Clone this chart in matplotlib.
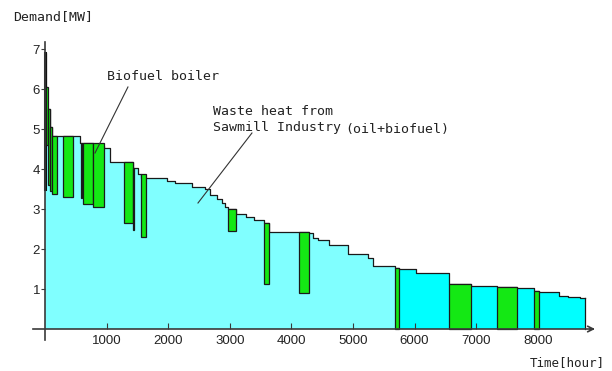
import numpy as np
import matplotlib.pyplot as plt

# load duration curve: step edges (hours) and demand level (MW) on each step
hour_edges = [0, 15, 40, 75, 110, 568, 780, 960, 1055, 1430, 1510, 1560,
              1981, 2110, 2386, 2600, 2679, 2792, 2873, 2922, 2971, 3101,
              3263, 3393, 3555, 3636, 4286, 4351, 4432, 4610, 4919, 5244,
              5325, 5682, 5747, 6023, 6201, 6558, 6916, 7338, 7662, 7938,
              8019, 8344, 8490, 8685, 8760]
demand = [6.9, 6.05, 5.5, 5.05, 4.83, 4.65, 4.57, 4.52, 4.18, 4.02, 3.88,
          3.78, 3.71, 3.66, 3.56, 3.49, 3.35, 3.25, 3.16, 3.06, 3.0, 2.88,
          2.79, 2.72, 2.66, 2.43, 2.41, 2.28, 2.22, 2.1, 1.87, 1.78, 1.58,
          1.52, 1.5, 1.41, 1.39, 1.12, 1.08, 1.04, 1.02, 0.96, 0.93, 0.83,
          0.81, 0.77]
split_hour = 5747  # waste heat only (light) / later period (dark)

# biofuel boiler operation blocks: start, end, lower level
bio_start = [15, 45, 80, 115, 292, 590, 617, 779, 1282, 1435, 1558, 2971,
             3555, 4123, 5682, 6558, 7338, 7938]
bio_end = [45, 80, 115, 195, 455, 608, 779, 958, 1429, 1452, 1640, 3101,
           3636, 4286, 5747, 6916, 7662, 8019]
bio_bottom = [4.6, 3.6, 3.45, 3.37, 3.31, 3.27, 3.12, 3.04, 2.66, 2.48, 2.31,
              2.46, 1.12, 0.89, 0.0, 0.0, 0.0, 0.0]

x_ticks = [1000, 2000, 3000, 4000, 5000, 6000, 7000, 8000]
y_ticks = [1, 2, 3, 4, 5, 6, 7]

light = '#80ffff'
dark = '#00ffff'
green = '#14e814'
edge = '#1a1a1a'
axcol = '#3a3a3a'
mono = 'DejaVu Sans Mono'

edges = np.array(hour_edges, dtype=float)
levels = np.array(demand + [demand[-1]])

fig = plt.figure(figsize=(6.12, 3.71), dpi=100)
ax = fig.add_axes([0, 0, 1, 1])
ax.set_xlim(-730, 9205)
ax.set_ylim(-1.05, 8.225)

k = hour_edges.index(split_hour)
ax.fill_between(edges[:k + 1], levels[:k + 1], step='post', color=light,
                lw=0, zorder=1)
ax.fill_between(edges[k:], levels[k:], step='post', color=dark, lw=0, zorder=1)
ax.step(edges, levels, where='post', color=edge, lw=0.9, zorder=2)
ax.plot([edges[-1], edges[-1]], [0, levels[-1]], color=edge, lw=0.9, zorder=2)
# peak hours drawn as a heavy line on the axis
ax.plot([8, 8], [3.5, demand[0]], color='#111111', lw=2.2, zorder=2)

for s, e, b in zip(bio_start, bio_end, bio_bottom):
    top = demand[np.searchsorted(edges, s, side='right') - 1]
    ax.bar(s, top - b, bottom=b, width=e - s, align='edge', color=green,
           edgecolor=edge, linewidth=0.9, zorder=3)

# axes through the origin
for side in ['top', 'right']:
    ax.spines[side].set_visible(False)
ax.spines['left'].set_position(('data', 0))
ax.spines['bottom'].set_position(('data', 0))
ax.spines['left'].set_bounds(-0.28, 7.17)
ax.spines['bottom'].set_bounds(-195, 8900)
for side in ['left', 'bottom']:
    ax.spines[side].set_color(axcol)
    ax.spines[side].set_linewidth(1.2)
    ax.spines[side].set_zorder(5)
ax.annotate('', xy=(8975, 0), xytext=(8800, 0),
            arrowprops=dict(arrowstyle='->', color=axcol, lw=1.2))

ax.set_xticks(x_ticks)
ax.set_yticks(y_ticks)
ax.tick_params(axis='x', direction='in', length=4, pad=4, colors=axcol,
               labelsize=9.5)
ax.tick_params(axis='y', direction='out', length=3, pad=0.5, colors=axcol,
               labelsize=9.5)
for lab in ax.get_xticklabels() + ax.get_yticklabels():
    lab.set_fontfamily('Liberation Sans')
    lab.set_color('#222222')

txt = dict(family=mono, fontsize=9.5, color='#222222', va='center')
ax.text(-520, 7.8, 'Demand[MW]', **txt)
ax.text(9091, -0.85, 'Time[hour]', ha='right', family=mono, fontsize=9,
        color='#222222', va='center')
ax.text(1006, 6.3, 'Biofuel boiler', **txt)
ax.text(2727, 5.43, 'Waste heat from', **txt)
ax.text(2727, 5.03, 'Sawmill Industry', **txt)
ax.text(4870, 5.0, '(oil+biofuel)', **txt)

ax.plot([1347, 812], [6.05, 4.4], color='#333333', lw=0.8, zorder=4)
ax.plot([3360, 2484], [4.9, 3.15], color='#333333', lw=0.8, zorder=4)

fig.savefig('out.png', dpi=100)
